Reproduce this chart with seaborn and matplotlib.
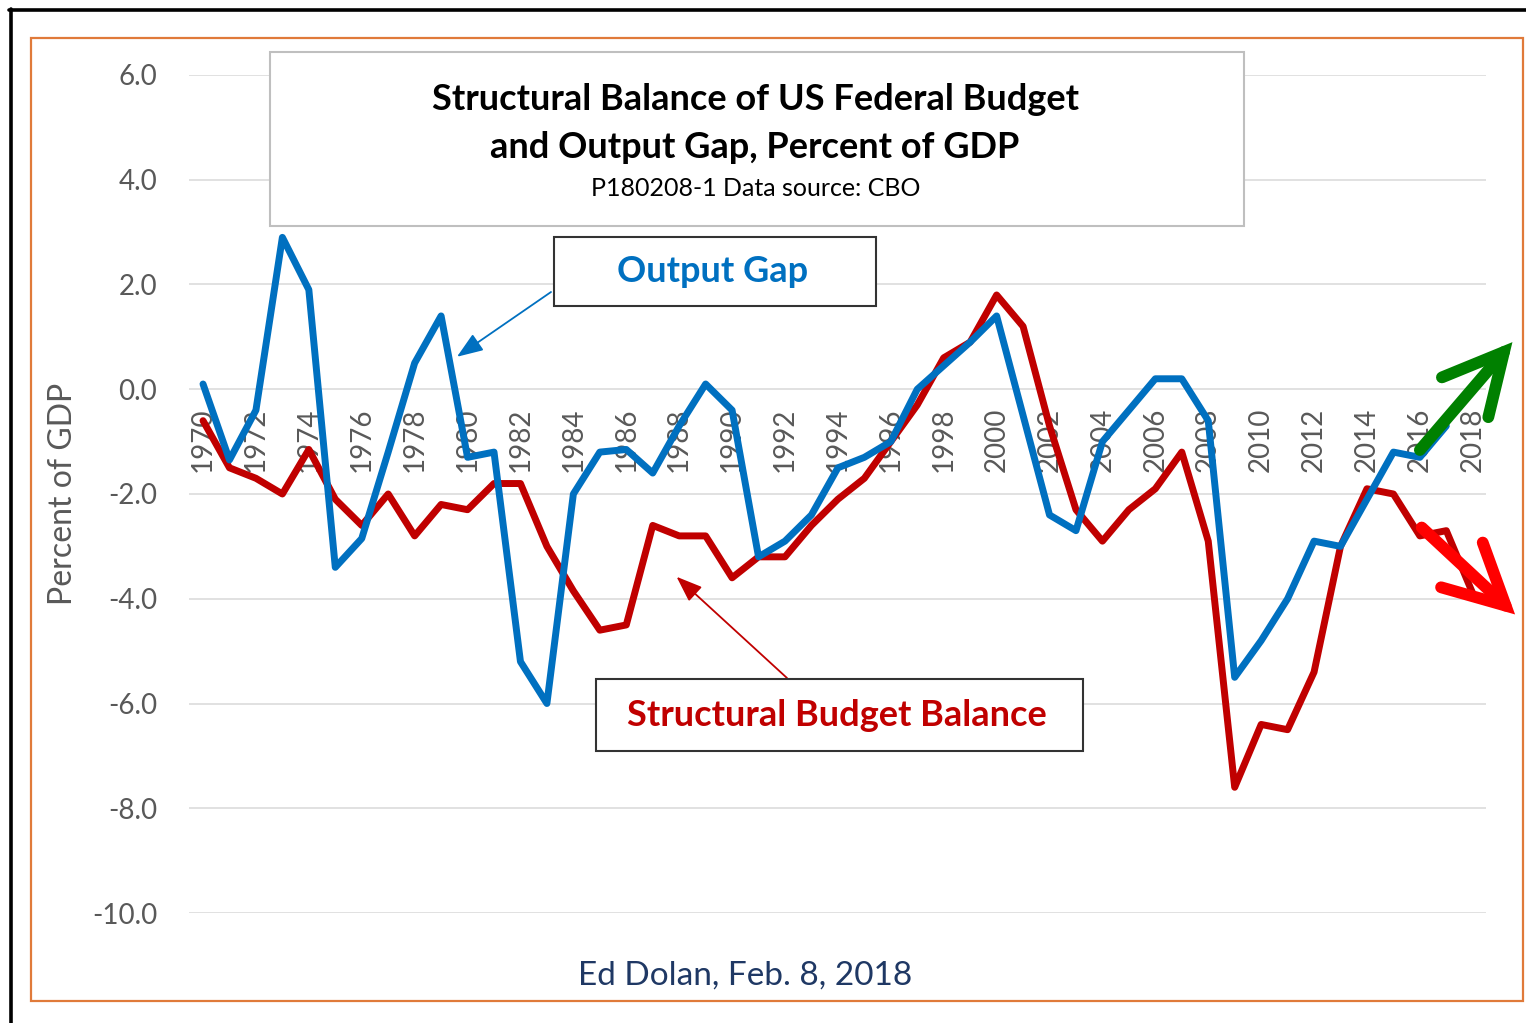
import numpy as np
import pandas as pd
import matplotlib.pyplot as plt
import seaborn as sns
from matplotlib.patches import Rectangle
from matplotlib.lines import Line2D
from matplotlib.ticker import FormatStrFormatter

# data (percent of GDP)
years = list(range(1970, 2019))
output_gap = [0.1, -1.35, -0.4, 2.9, 1.9, -3.4, -2.85, -1.2, 0.5, 1.4,
              -1.3, -1.2, -5.2, -6.0, -2.0, -1.2, -1.15, -1.6, -0.7, 0.1,
              -0.4, -3.2, -2.9, -2.4, -1.5, -1.3, -1.0, 0.0, 0.45, 0.9,
              1.4, -0.5, -2.4, -2.7, -1.0, -0.4, 0.2, 0.2, -0.6, -5.5,
              -4.8, -4.0, -2.9, -3.0, -2.1, -1.2, -1.3, -0.7, np.nan]
struct_bal = [-0.6, -1.5, -1.7, -2.0, -1.15, -2.1, -2.6, -2.0, -2.8, -2.2,
              -2.3, -1.8, -1.8, -3.0, -3.85, -4.6, -4.5, -2.6, -2.8, -2.8,
              -3.6, -3.2, -3.2, -2.6, -2.1, -1.7, -1.0, -0.3, 0.6, 0.9,
              1.8, 1.2, -0.7, -2.3, -2.9, -2.3, -1.9, -1.2, -2.9, -7.6,
              -6.4, -6.5, -5.4, -3.0, -1.9, -2.0, -2.8, -2.7, -3.9]
yticks = [-10, -8, -6, -4, -2, 0, 2, 4, 6]
xticks = list(range(1970, 2019, 2))

df = pd.DataFrame({'year': years, 'gap': output_gap, 'bal': struct_bal})

W, H = 1526, 1023
def fpx(x, y):
    return x / W, 1 - y / H

sns.set_style('white')
plt.rcParams['font.family'] = ['Lato', 'DejaVu Sans']
plt.rcParams['axes.unicode_minus'] = False

fig = plt.figure(figsize=(W / 100, H / 100), dpi=100)
ax = fig.add_axes([189 / W, 1 - 913 / H, (1486 - 189) / W, (913 - 75) / H])

sns.lineplot(data=df, x='year', y='bal', ax=ax, color='#C00000', lw=5, zorder=3)
sns.lineplot(data=df, x='year', y='gap', ax=ax, color='#0070C0', lw=5, zorder=4)

ax.set_xlim(1969.47, 2018.5)
ax.set_ylim(-10, 6)
ax.set_yticks(yticks)
ax.yaxis.set_major_formatter(FormatStrFormatter('%.1f'))
ax.set_xticks(xticks)
ax.set_xticklabels([str(y) for y in xticks])
ax.grid(axis='y', color='#D9D9D9', lw=1.1)
ax.grid(axis='x', visible=False)
for s in ax.spines.values():
    s.set_visible(False)
ax.spines['bottom'].set_position(('data', 0))
ax.tick_params(axis='y', length=0, pad=23, labelsize=20, labelcolor='#595959')
ax.tick_params(axis='x', length=0, pad=13, labelsize=20, labelcolor='#595959',
               labelrotation=90)
ax.set_xlabel('')
ax.set_ylabel('')
fig.text(*fpx(63, 494), 'Percent of GDP', rotation=90, ha='center', va='center',
         fontsize=23, color='#595959')

# frames around the picture
fig.patches.append(Rectangle(fpx(31, 1001), (1523 - 31) / W, (1001 - 38) / H,
                             transform=fig.transFigure, fill=False,
                             edgecolor='#E07A3A', lw=1.6))
fig.lines.append(Line2D([9 / W, 1], [1 - 10 / H] * 2, transform=fig.transFigure,
                        color='black', lw=2.6))
fig.lines.append(Line2D([11 / W] * 2, [0, 1 - 9 / H], transform=fig.transFigure,
                        color='black', lw=2.6))

# title box
fig.patches.append(Rectangle(fpx(270, 226), (1244 - 270) / W, (226 - 52) / H,
                             transform=fig.transFigure, facecolor='white',
                             edgecolor='#BFBFBF', lw=1.5, zorder=5))
fig.text(*fpx(755, 100), 'Structural Balance of US Federal Budget', ha='center',
         va='center', fontsize=26, fontweight='bold', color='black', zorder=6)
fig.text(*fpx(755, 148), 'and Output Gap, Percent of GDP', ha='center',
         va='center', fontsize=26, fontweight='bold', color='black', zorder=6)
fig.text(*fpx(756, 188), 'P180208-1 Data source: CBO', ha='center',
         va='center', fontsize=18, color='black', zorder=6)

# series labels
fig.patches.append(Rectangle(fpx(554, 306), (876 - 554) / W, (306 - 237) / H,
                             transform=fig.transFigure, facecolor='white',
                             edgecolor='#333333', lw=1.5, zorder=5))
fig.text(*fpx(713, 272), 'Output Gap', ha='center', va='center', fontsize=26,
         fontweight='bold', color='#0070C0', zorder=6)
fig.patches.append(Rectangle(fpx(596, 751), (1083 - 596) / W, (751 - 679) / H,
                             transform=fig.transFigure, facecolor='white',
                             edgecolor='#333333', lw=1.5, zorder=5))
fig.text(*fpx(837, 715), 'Structural Budget Balance', ha='center', va='center',
         fontsize=26, fontweight='bold', color='#C00000', zorder=6)

ax.annotate('', xy=(1979.6, 0.62), xytext=fpx(551, 292), textcoords='figure fraction',
            arrowprops=dict(arrowstyle='-|>,head_length=1.6,head_width=0.6',
                            color='#0070C0', lw=1.3, shrinkA=0, shrinkB=0))
ax.annotate('', xy=(1987.9, -3.58), xytext=fpx(787, 678), textcoords='figure fraction',
            arrowprops=dict(arrowstyle='-|>,head_length=1.6,head_width=0.6',
                            color='#C00000', lw=1.3, shrinkA=0, shrinkB=0))

# big trend arrows
ax.annotate('', xy=(2019.5, 0.9), xytext=(2016.0, -1.16),
            arrowprops=dict(arrowstyle='->,head_length=4.3,head_width=2.2',
                            color='#008000', lw=8.5, capstyle='round',
                            joinstyle='miter', shrinkA=0, shrinkB=0,
                            mutation_scale=10), annotation_clip=False, zorder=7)
ax.annotate('', xy=(2019.6, -4.3), xytext=(2016.07, -2.64),
            arrowprops=dict(arrowstyle='->,head_length=4.3,head_width=2.2',
                            color='#FF0000', lw=8.5, capstyle='round',
                            joinstyle='miter', shrinkA=0, shrinkB=0,
                            mutation_scale=10), annotation_clip=False, zorder=7)

fig.text(*fpx(745, 976), 'Ed Dolan, Feb. 8, 2018', ha='center', va='center',
         fontsize=24, color='#1F3864')

fig.savefig('out.png', dpi=100)
